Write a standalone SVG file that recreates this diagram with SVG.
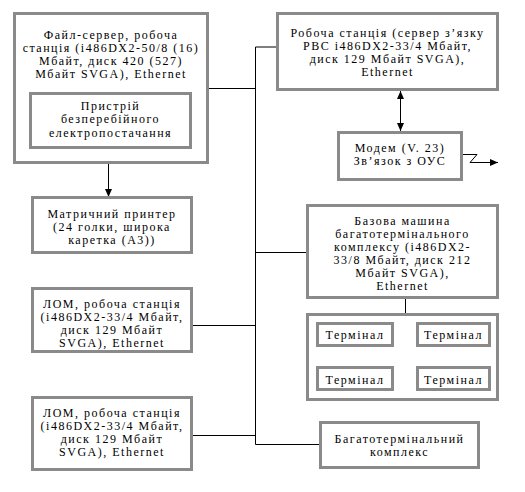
<svg xmlns="http://www.w3.org/2000/svg" width="525" height="492" viewBox="0 0 525 492">
<defs>
<marker id="ah" viewBox="0 0 8 8" refX="8" refY="4" markerWidth="8" markerHeight="8" markerUnits="userSpaceOnUse" orient="auto-start-reverse">
<path d="M0,0.5 L8,4 L0,7.5 Z" fill="#000"/>
</marker>
</defs>
<style>
.box{fill:#fff;stroke:#8a8a8a;stroke-width:3}
.t{font-family:'Liberation Serif','Times New Roman',serif;font-size:12px;letter-spacing:1.5px;fill:#000;text-anchor:middle}
.ln{fill:none;stroke:#000;stroke-width:1}
</style>
<rect width="525" height="492" fill="#fff"/>
<g id="connectors">
<path class="ln" d="M255.5,47 V444.5"/>
<path class="ln" d="M208,88.5 H255.5"/>
<path class="ln" d="M255.5,47 H277"/>
<path class="ln" d="M255.5,252.5 H307"/>
<path class="ln" d="M192,325.5 H255.5"/>
<path class="ln" d="M192,435.5 H255.5"/>
<path class="ln" d="M255.5,444.5 H320"/>
<path class="ln" d="M108.5,148 V197" marker-end="url(#ah)"/>
<path class="ln" d="M400.5,91 V131" marker-start="url(#ah)" marker-end="url(#ah)"/>
<path class="ln" d="M462,154.5 H477 L470,162.5 H498" marker-end="url(#ah)"/>
<path class="ln" d="M405.5,298 V380.5"/>
<path class="ln" d="M405.5,335.5 H417"/>
<path class="ln" d="M393,380.5 H417"/>
</g>
<g id="fileserver">
<rect class="box" x="14.5" y="13.5" width="193" height="149"/>
<text class="t" x="111" y="39">Файл-сервер, робоча</text>
<text class="t" x="111" y="52">станція (i486DX2-50/8 (16)</text>
<text class="t" x="111" y="65">Мбайт, диск 420 (527)</text>
<text class="t" x="111" y="78">Мбайт SVGA), Ethernet</text>
</g>
<g id="ups">
<rect class="box" x="30.5" y="93.5" width="160" height="54"/>
<text class="t" x="110.5" y="110">Пристрій</text>
<text class="t" x="110.5" y="123">безперебійного</text>
<text class="t" x="110.5" y="137">електропостачання</text>
</g>
<g id="printer">
<rect class="box" x="32.5" y="197.5" width="159" height="55"/>
<text class="t" x="112" y="218">Матричний принтер</text>
<text class="t" x="112" y="231">(24 голки, широка</text>
<text class="t" x="112" y="244">каретка (А3))</text>
</g>
<g id="lan1">
<rect class="box" x="32.5" y="288.5" width="159" height="63"/>
<text class="t" x="112" y="308">ЛОМ, робоча станція</text>
<text class="t" x="112" y="321">(i486DX2-33/4 Мбайт,</text>
<text class="t" x="112" y="334">диск 129 Мбайт</text>
<text class="t" x="112" y="347">SVGA), Ethernet</text>
</g>
<g id="lan2">
<rect class="box" x="32.5" y="397.5" width="159" height="72"/>
<text class="t" x="112" y="417">ЛОМ, робоча станція</text>
<text class="t" x="112" y="430">(i486DX2-33/4 Мбайт,</text>
<text class="t" x="112" y="443">диск 129 Мбайт</text>
<text class="t" x="112" y="456">SVGA), Ethernet</text>
</g>
<g id="workstation">
<rect class="box" x="277.5" y="13.5" width="220" height="76"/>
<text class="t" x="387.5" y="37">Робоча станція (сервер з’язку</text>
<text class="t" x="387.5" y="50">РВС i486DX2-33/4  Мбайт,</text>
<text class="t" x="387.5" y="63">диск 129  Мбайт SVGA),</text>
<text class="t" x="387.5" y="76">Ethernet</text>
</g>
<g id="modem">
<rect class="box" x="338.5" y="132.5" width="123" height="47"/>
<text class="t" x="400" y="152">Модем (V. 23)</text>
<text class="t" x="400" y="165">Зв’язок з ОУС</text>
</g>
<g id="basemachine">
<rect class="box" x="307.5" y="205.5" width="190" height="92"/>
<text class="t" x="402.5" y="225">Базова машина</text>
<text class="t" x="402.5" y="238">багатотермінального</text>
<text class="t" x="402.5" y="251">комплексу (i486DX2-</text>
<text class="t" x="402.5" y="264">33/8 Мбайт, диск 212</text>
<text class="t" x="402.5" y="277">Мбайт SVGA),</text>
<text class="t" x="402.5" y="290">Ethernet</text>
</g>
<g id="terminals">
<rect class="box" x="307.5" y="314.5" width="190" height="85" fill="none"/>
</g>
<g id="term1">
<rect class="box" x="317.5" y="323.5" width="75" height="22"/>
<text class="t" x="355" y="339">Термінал</text>
</g>
<g id="term2">
<rect class="box" x="417.5" y="323.5" width="72" height="22"/>
<text class="t" x="453.5" y="339">Термінал</text>
</g>
<g id="term3">
<rect class="box" x="317.5" y="367.5" width="75" height="22"/>
<text class="t" x="355" y="384">Термінал</text>
</g>
<g id="term4">
<rect class="box" x="417.5" y="367.5" width="72" height="22"/>
<text class="t" x="453.5" y="384">Термінал</text>
</g>
<g id="multiterminal">
<rect class="box" x="320.5" y="422.5" width="158" height="45"/>
<text class="t" x="399.5" y="443">Багатотермінальний</text>
<text class="t" x="399.5" y="456">комплекс</text>
</g>
</svg>
